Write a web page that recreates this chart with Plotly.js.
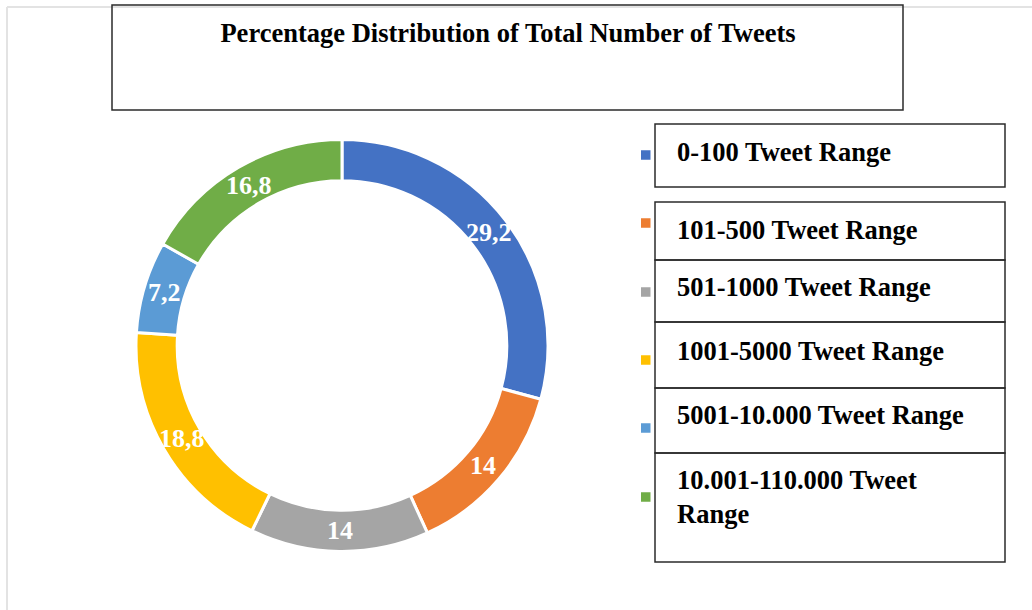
<!DOCTYPE html>
<html>
<head>
<meta charset="utf-8">
<script src="https://cdn.plot.ly/plotly-3.0.1.min.js"></script>
<style>html,body{margin:0;padding:0;background:#fff;}#chart{width:1032px;height:610px;}</style>
</head>
<body>
<div id="chart"></div>
<script>
// ---- data ----
const categories = [
  "0-100 Tweet Range",
  "101-500 Tweet Range",
  "501-1000 Tweet Range",
  "1001-5000 Tweet Range",
  "5001-10.000 Tweet Range",
  "10.001-110.000 Tweet Range"
];
const shares = [29.2, 14, 14, 18.8, 7.2, 16.8];
const colors = ["#4472C4", "#ED7D31", "#A5A5A5", "#FFC000", "#5B9BD5", "#70AD47"];
const chartTitle = "Percentage Distribution of Total Number of Tweets";

// ---- layout helpers (pixel -> paper) ----
const W = 1032, H = 610;
const px = x => x / W;
const py = y => 1 - y / H;
const FONT = "Liberation Serif, Times New Roman, serif";

// donut geometry
const cx = 342, cy = 345.5, R = 206, HOLE = 0.80;
const rMid = R * (1 + HOLE) / 2;

const pie = {
  type: "pie",
  values: shares,
  labels: categories,
  textinfo: "none",
  sort: false,
  direction: "clockwise",
  rotation: 0,
  hole: HOLE,
  marker: {colors: colors, line: {color: "#ffffff", width: 3}},
  domain: {x: [px(cx - R), px(cx + R)], y: [py(cy + R), py(cy - R)]},
  showlegend: false,
  hoverinfo: "label+percent"
};

const shapes = [];
const annotations = [];

// data labels at the middle of each ring segment (angles derived from the shares)
const total = shares.reduce((a, b) => a + b, 0);
let cum = 0;
shares.forEach((v, i) => {
  const mid = (cum + v / 2) / total * 2 * Math.PI;
  cum += v;
  annotations.push({
    xref: "paper", yref: "paper",
    x: px(cx + rMid * Math.sin(mid)), y: py(cy - rMid * Math.cos(mid)),
    xanchor: "center", yanchor: "middle", showarrow: false,
    text: String(v).replace(".", ","),
    font: {family: FONT, size: 26, color: "#ffffff", weight: "bold"}
  });
});

// legend: boxes + markers + labels
const boxes = [[124, 187], [202, 260], [260, 322], [322, 388], [388, 453], [453, 562]];
const markerY = [155, 223, 292, 360, 428, 497];
const textY = [152, 230, 287, 351, 415, 497];

// outer faint frame
shapes.push({type: "line", xref: "paper", yref: "paper", x0: px(7), x1: px(7), y0: py(7), y1: py(612), line: {color: "#e3e3e3", width: 2}});
shapes.push({type: "line", xref: "paper", yref: "paper", x0: px(7), x1: px(1034), y0: py(7), y1: py(7), line: {color: "#e3e3e3", width: 2}});

// title box
shapes.push({type: "rect", xref: "paper", yref: "paper", x0: px(112), x1: px(903), y0: py(110), y1: py(5), line: {color: "#2b2b2b", width: 1.5}});

categories.forEach((c, i) => {
  shapes.push({type: "rect", xref: "paper", yref: "paper", x0: px(655), x1: px(1005), y0: py(boxes[i][1]), y1: py(boxes[i][0]), line: {color: "#2b2b2b", width: 1.5}});
  shapes.push({type: "rect", xref: "paper", yref: "paper", x0: px(641), x1: px(650.5), y0: py(markerY[i] + 4.75), y1: py(markerY[i] - 4.75), line: {width: 0}, fillcolor: colors[i]});
  const label = c === "10.001-110.000 Tweet Range" ? "10.001-110.000 Tweet<br>Range" : c;
  annotations.push({xref: "paper", yref: "paper", x: px(675), y: py(textY[i]), xanchor: "left", yanchor: "middle", align: "left", showarrow: false, text: label, font: {family: FONT, size: 26.5, color: "#000000", weight: "bold"}});
});

const layout = {
  width: W, height: H,
  margin: {l: 0, r: 0, t: 0, b: 0},
  paper_bgcolor: "#ffffff",
  plot_bgcolor: "#ffffff",
  showlegend: false,
  title: {text: chartTitle, x: px(508), xanchor: "center", xref: "paper", y: py(33), yanchor: "middle", yref: "paper", font: {family: FONT, size: 26.5, color: "#000000", weight: "bold"}},
  shapes: shapes,
  annotations: annotations
};

Plotly.newPlot("chart", [pie], layout, {displayModeBar: false, responsive: false});
</script>
</body>
</html>
